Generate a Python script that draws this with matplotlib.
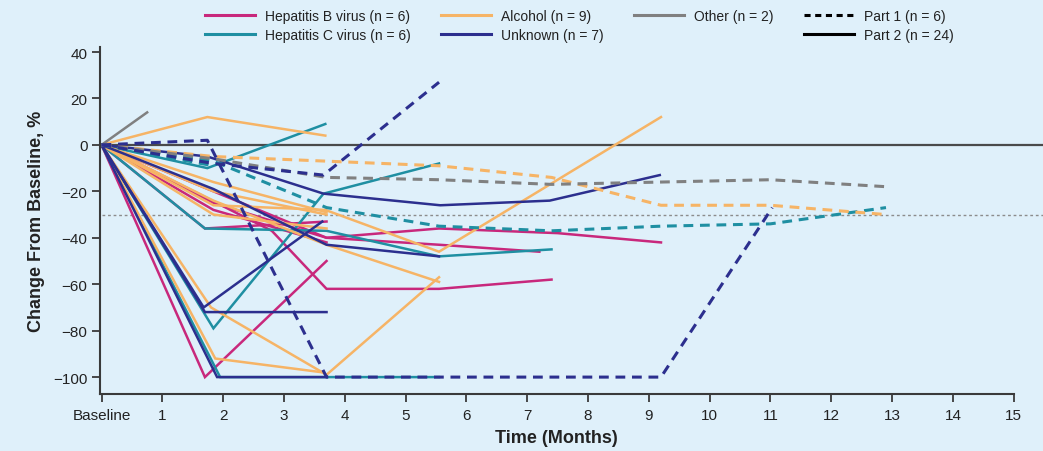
import matplotlib
matplotlib.use("Agg")
import matplotlib.pyplot as plt
from matplotlib.lines import Line2D

plt.rcParams['font.family'] = ['Liberation Sans', 'DejaVu Sans']

# 各群の色
colors = {
    'hbv': '#c8287c',
    'hcv': '#1f8fa2',
    'alcohol': '#f6b466',
    'other': '#808080',
    'unknown': '#2c2f8e',
}

# 患者ごとの時点(月)とベースラインからの変化率(%)。part: 1=Part 1, 2=Part 2
hbv_times = [[0, 1.7, 3.7], [0, 2.8, 3.7, 5.55, 7.4], [0, 1.84, 3.7, 5.55, 7.5, 9.2],
             [0, 1.84, 3.7, 5.55, 7.2], [0, 1.7, 3.7], [0, 1.84, 3.7]]
hbv_change = [[0, -100, -50], [0, -37, -62, -62, -58], [0, -20, -40, -36, -38, -42],
              [0, -25, -40, -43, -46], [0, -36, -33], [0, -28, -42]]
hbv_part = [2, 2, 2, 2, 2, 2]

hcv_times = [[0, 1.84, 3.7, 5.55, 7.4, 9.2, 11.0, 12.9], [0, 1.74, 3.68], [0, 1.84, 3.65, 5.55],
             [0, 1.95, 3.7, 5.55], [0, 1.7, 3.7, 5.55, 7.4], [0, 1.84]]
hcv_change = [[0, -7, -27, -35, -37, -35, -34, -27], [0, -10, 9], [0, -79, -21, -8],
              [0, -100, -100, -100], [0, -36, -37, -48, -45], [0, -9]]
hcv_part = [1, 2, 2, 2, 2, 1]

alcohol_times = [[0, 1.84, 3.7, 5.55, 7.4, 9.2, 11.0, 12.9], [0, 1.74, 3.68],
                 [0, 1.84, 3.68, 5.55, 9.2], [0, 1.8, 3.7, 5.55], [0, 1.87, 3.65],
                 [0, 1.84, 3.7, 5.55], [0, 1.84, 3.7], [0, 1.84, 3.7], [0, 1.84, 3.7]]
alcohol_change = [[0, -5, -7, -9, -14, -26, -26, -30], [0, 12, 4],
                  [0, -26, -28, -46, 12], [0, -70, -99, -57], [0, -92, -98],
                  [0, -24, -43, -59], [0, -20, -30], [0, -30, -36], [0, -16, -29]]
alcohol_part = [1, 2, 2, 2, 2, 2, 2, 2, 2]

other_times = [[0, 0.75], [0, 1.84, 3.7, 5.55, 7.4, 9.2, 11.0, 12.9]]
other_change = [[0, 14], [0, -6, -14, -15, -17, -16, -15, -18]]
other_part = [2, 1]

unknown_times = [[0, 1.84, 3.65, 5.55], [0, 1.74, 3.7, 5.55, 7.4, 9.2, 11.03],
                 [0, 1.74, 3.65, 5.57, 7.37, 9.18], [0, 1.84, 3.7, 5.55],
                 [0, 1.68, 3.63], [0, 1.7, 3.7], [0, 1.9, 3.7]]
unknown_change = [[0, -8, -13, 27], [0, 2, -100, -100, -100, -100, -27],
                  [0, -5, -21, -26, -24, -13], [0, -19, -43, -48],
                  [0, -70, -33], [0, -72, -72], [0, -100, -100]]
unknown_part = [1, 1, 2, 2, 2, 2, 2]

groups = [
    ('hbv', hbv_times, hbv_change, hbv_part),
    ('hcv', hcv_times, hcv_change, hcv_part),
    ('alcohol', alcohol_times, alcohol_change, alcohol_part),
    ('other', other_times, other_change, other_part),
    ('unknown', unknown_times, unknown_change, unknown_part),
]

xtick_labels = ['Baseline'] + [str(i) for i in range(1, 16)]
ytick_values = [40, 20, 0, -20, -40, -60, -80, -100]

fig = plt.figure(figsize=(10.43, 4.52), dpi=100)
bg = '#dff0fa'
fig.patch.set_facecolor(bg)
ax = fig.add_axes([0.0959, 0.126, 0.876, 0.768])
ax.set_facecolor(bg)

# 基準線 (0%) と -30% の点線
ax.plot([0, 15.5], [0, 0], color='#4a4a4a', lw=1.6, clip_on=False, zorder=1)
ax.plot([0, 15.5], [-30, -30], color='#8c8c8c', lw=1.0, ls=(0, (2, 2)), clip_on=False, zorder=1)

# Part 2 (実線) を先に、Part 1 (破線) を上に描く
for part in (2, 1):
    for key, times, changes, parts in groups:
        for t, v, p in zip(times, changes, parts):
            if p != part:
                continue
            if p == 1:
                ax.plot(t, v, color=colors[key], lw=2.2, ls=(0, (3.2, 2.2)), zorder=3)
            else:
                ax.plot(t, v, color=colors[key], lw=1.8, solid_joinstyle='miter', zorder=2)

ax.set_xlim(-0.025, 15)
ax.set_ylim(-107.3, 42.2)
ax.set_xticks(range(16))
ax.set_xticklabels(xtick_labels)
ax.set_yticks(ytick_values)
ax.set_yticklabels([str(v).replace('-', '\u2212') for v in ytick_values])

for side in ('top', 'right'):
    ax.spines[side].set_visible(False)
for side in ('left', 'bottom'):
    ax.spines[side].set_color('#3a3a3a')
    ax.spines[side].set_linewidth(1.5)
ax.tick_params(axis='both', direction='out', length=6, width=1.3, color='#3a3a3a',
               labelsize=11, labelcolor='#222222', pad=3)
ax.tick_params(axis='x', pad=4)

ax.set_xlabel('Time (Months)', fontsize=13, fontweight='bold', color='#222222', labelpad=5)
ax.set_ylabel('Change From Baseline, %', fontsize=13, fontweight='bold', color='#222222', labelpad=6)

# 凡例
handles = [
    Line2D([], [], color=colors['hbv'], lw=2.2),
    Line2D([], [], color=colors['hcv'], lw=2.2),
    Line2D([], [], color=colors['alcohol'], lw=2.2),
    Line2D([], [], color=colors['unknown'], lw=2.2),
    Line2D([], [], color=colors['other'], lw=2.2),
    Line2D([], [], color='none', lw=0),
    Line2D([], [], color='black', lw=2.2, ls=(0, (2, 1.5))),
    Line2D([], [], color='black', lw=2.2),
]
labels = ['Hepatitis B virus (n = 6)', 'Hepatitis C virus (n = 6)',
          'Alcohol (n = 9)', 'Unknown (n = 7)',
          'Other (n = 2)', '',
          'Part 1 (n = 6)', 'Part 2 (n = 24)']
fig.legend(handles, labels, ncol=4, loc='upper left', bbox_to_anchor=(0.185, 1.006),
           frameon=False, fontsize=10, handlelength=3.6, handletextpad=0.7,
           columnspacing=2.2, labelspacing=0.38, labelcolor='#222222')

fig.savefig('out.png', dpi=100, facecolor=bg)
